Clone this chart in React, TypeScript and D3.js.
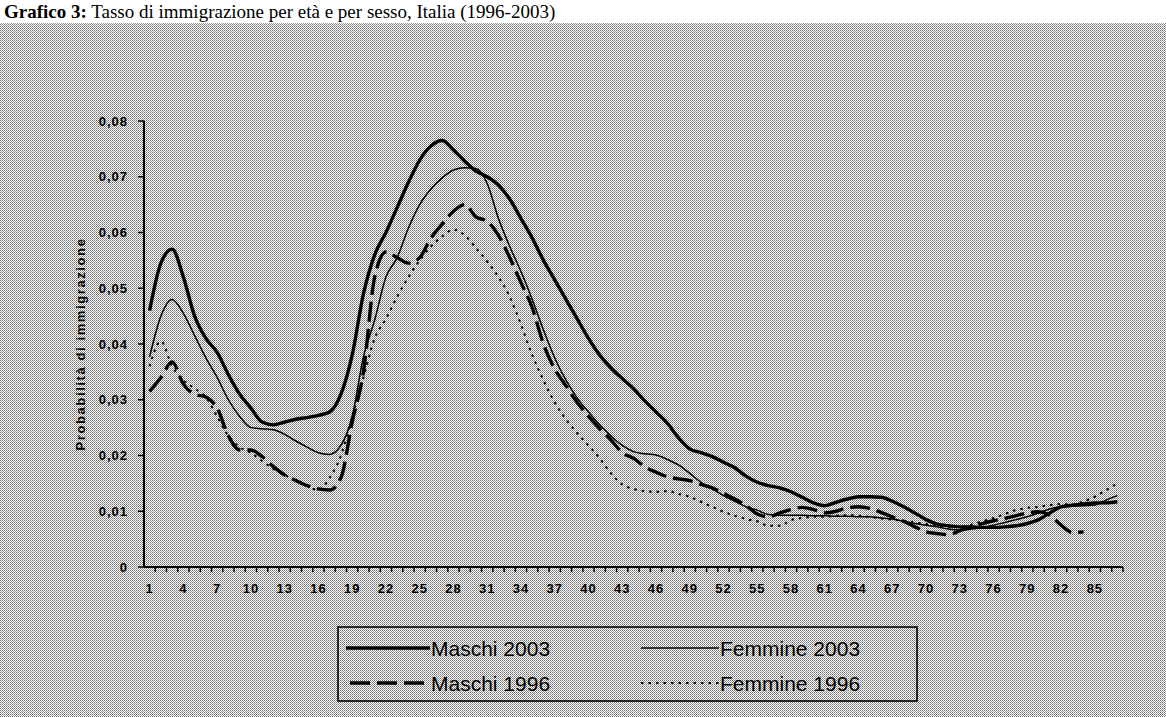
import React from 'react';
import * as d3 from 'd3';

const ages = [
  1, 2, 3, 4, 5, 6, 7, 8, 9, 10, 11, 12, 13, 14, 15, 16, 17, 18, 19, 20, 21, 22, 23, 24, 25, 26, 27, 28, 29, 30,
  31, 32, 33, 34, 35, 36, 37, 38, 39, 40, 41, 42, 43, 44, 45, 46, 47, 48, 49, 50, 51, 52, 53, 54, 55, 56, 57, 58,
  59, 60, 61, 62, 63, 64, 65, 66, 67, 68, 69, 70, 71, 72, 73, 74, 75, 76, 77, 78, 79, 80, 81, 82, 83, 84, 85, 86, 87,
];

const maschi2003 = [
  0.046, 0.0545, 0.057, 0.052, 0.045, 0.041, 0.0385, 0.0345, 0.031, 0.0285, 0.026, 0.0255, 0.026, 0.0265, 0.0268,
  0.0272, 0.0278, 0.031, 0.038, 0.049, 0.056, 0.06, 0.0645, 0.069, 0.073, 0.0755, 0.0765, 0.0748, 0.0728, 0.071,
  0.07, 0.0685, 0.066, 0.0625, 0.059, 0.055, 0.0515, 0.048, 0.0445, 0.041, 0.038, 0.0357, 0.0338, 0.032, 0.0298,
  0.0278, 0.0258, 0.0232, 0.0212, 0.0205, 0.0198, 0.0188, 0.0178, 0.0163, 0.0152, 0.0146, 0.0142, 0.0135, 0.0125,
  0.0115, 0.011, 0.0116, 0.0122, 0.0126, 0.0126, 0.0125, 0.0118, 0.0108, 0.0097, 0.0085, 0.0077, 0.0074, 0.0072,
  0.0072, 0.0071, 0.0071, 0.0072, 0.0074, 0.0078, 0.0085, 0.0097, 0.0108, 0.0111, 0.0113, 0.0115, 0.0115, 0.0117,
];

const femmine2003 = [
  0.0377, 0.045, 0.048, 0.0455, 0.0415, 0.0375, 0.034, 0.03, 0.027, 0.025, 0.0248, 0.0246, 0.0238, 0.0226, 0.0215,
  0.0205, 0.0202, 0.0218, 0.027, 0.0377, 0.0443, 0.052, 0.0555, 0.0608, 0.065, 0.0678, 0.0698, 0.0712, 0.0716,
  0.0715, 0.0688, 0.0625, 0.0575, 0.053, 0.048, 0.0425, 0.0375, 0.0335, 0.0303, 0.0278, 0.0255, 0.0235, 0.0218,
  0.0207, 0.0203, 0.0201, 0.0193, 0.0183, 0.0168, 0.0152, 0.014, 0.0128, 0.0118, 0.0108, 0.0102, 0.0094, 0.0093,
  0.0093, 0.0093, 0.0092, 0.0092, 0.0091, 0.0091, 0.009, 0.009, 0.0088, 0.0086, 0.0082, 0.0078, 0.0075, 0.0072,
  0.0068, 0.0066, 0.0068, 0.0071, 0.0075, 0.008, 0.0085, 0.009, 0.0097, 0.0104, 0.0108, 0.0109, 0.011, 0.0111,
  0.012, 0.0128,
];

const maschi1996 = [
  0.0315, 0.034, 0.0368, 0.0328, 0.031, 0.0305, 0.0285, 0.0235, 0.021, 0.021, 0.0198, 0.018, 0.0165, 0.0155, 0.0146,
  0.014, 0.0138, 0.016, 0.026, 0.035, 0.052, 0.0565, 0.0555, 0.0545, 0.0555, 0.059, 0.0615, 0.0638, 0.065, 0.0628,
  0.062, 0.0595, 0.0555, 0.051, 0.0465, 0.04, 0.0355, 0.0325, 0.0295, 0.027, 0.0248, 0.0228, 0.0205, 0.0195, 0.018,
  0.017, 0.0162, 0.0158, 0.0155, 0.0148, 0.0142, 0.0132, 0.0122, 0.011, 0.0095, 0.009, 0.0097, 0.0103, 0.0107,
  0.0103, 0.0097, 0.01, 0.0106, 0.0108, 0.0105, 0.0098, 0.009, 0.0082, 0.0072, 0.0063, 0.006, 0.0058, 0.0065,
  0.0072, 0.0078, 0.0083, 0.0087, 0.0092, 0.0097, 0.0099, 0.0093, 0.0075, 0.0062, 0.0063,
];

const femmine1996 = [
  0.036, 0.0405, 0.036, 0.0335, 0.032, 0.0305, 0.027, 0.0235, 0.0215, 0.0205, 0.019, 0.0176, 0.0165, 0.0155, 0.0145,
  0.0138, 0.016, 0.02, 0.027, 0.034, 0.041, 0.0445, 0.0485, 0.052, 0.055, 0.0575, 0.0593, 0.0605, 0.0595, 0.0572,
  0.0548, 0.052, 0.0485, 0.0435, 0.038, 0.0335, 0.0295, 0.0265, 0.024, 0.0218, 0.0195, 0.0168, 0.0148, 0.014,
  0.0136, 0.0135, 0.0136, 0.0131, 0.0126, 0.0117, 0.0108, 0.0099, 0.0092, 0.0086, 0.0082, 0.0074, 0.0074, 0.0084,
  0.0088, 0.009, 0.009, 0.0092, 0.0093, 0.0092, 0.009, 0.0087, 0.0085, 0.0083, 0.008, 0.0077, 0.0074, 0.0072,
  0.0072, 0.0076, 0.0082, 0.0088, 0.0095, 0.0102, 0.0106, 0.0108, 0.0111, 0.0113, 0.0112, 0.0118, 0.0126, 0.0138,
  0.015,
];

const yTicks = [0, 0.01, 0.02, 0.03, 0.04, 0.05, 0.06, 0.07, 0.08];
const yTickLabels = ['0', '0,01', '0,02', '0,03', '0,04', '0,05', '0,06', '0,07', '0,08'];
const xLabelAges = [1, 4, 7, 10, 13, 16, 19, 22, 25, 28, 31, 34, 37, 40, 43, 46, 49, 52, 55, 58, 61, 64, 67, 70, 73, 76, 79, 82, 85];

const seriesNames = ['Maschi 2003', 'Femmine 2003', 'Maschi 1996', 'Femmine 1996'];

const W = 1166;
const H = 717;

export default function App() {
  const x = d3.scaleBand<number>().domain(ages).range([144, 1123]).padding(0);
  const y = d3.scaleLinear().domain([0, 0.08]).range([567, 121]);
  const cx = (a: number) => (x(a) as number) + x.bandwidth() / 2;
  const mkLine = (vals: number[]) =>
    d3
      .line<number>()
      .x((_, i) => cx(ages[i]))
      .y((d) => y(d))
      .curve(d3.curveMonotoneX)(vals) as string;

  const styles = [
    { data: maschi2003, width: 3.4, dash: undefined as string | undefined },
    { data: femmine2003, width: 1.5, dash: undefined as string | undefined },
    { data: maschi1996, width: 3.4, dash: '20,7' },
    { data: femmine1996, width: 2, dash: '2.5,5' },
  ];

  const tickFont = "'Liberation Sans', Arial, sans-serif";
  const legFont = "'Liberation Sans Narrow', 'Arial Narrow', 'Liberation Sans', sans-serif";

  const legendItems = [
    { lx1: 346, lx2: 430, tx: 431, ty: 648, s: styles[0], name: seriesNames[0] },
    { lx1: 641, lx2: 719, tx: 720, ty: 648, s: styles[1], name: seriesNames[1] },
    { lx1: 350, lx2: 430, tx: 431, ty: 683, s: styles[2], name: seriesNames[2] },
    { lx1: 641, lx2: 719, tx: 720, ty: 683, s: styles[3], name: seriesNames[3] },
  ];

  return (
    <svg
      width={W}
      height={H}
      style={{ position: 'absolute', left: 0, top: 0, display: 'block' }}
      xmlns="http://www.w3.org/2000/svg"
    >
      <defs>
        <pattern id="dither" patternUnits="userSpaceOnUse" width={2} height={2}>
          <rect x={0} y={0} width={2} height={2} fill="#ffffff" />
          <rect x={0} y={0} width={1} height={1} fill="#707070" />
          <rect x={1} y={1} width={1} height={1} fill="#9a9a9a" />
        </pattern>
      </defs>
      <rect x={0} y={0} width={W} height={H} fill="#ffffff" />
      <rect x={0} y={23} width={W} height={H - 23} fill="url(#dither)" shapeRendering="crispEdges" />

      {/* title */}
      <text x={4} y={18} fontFamily="'Liberation Serif', 'Times New Roman', serif" fontSize={19} fill="#000">
        <tspan fontWeight="bold">Grafico 3:</tspan> Tasso di immigrazione per età e per sesso, Italia (1996-2003)
      </text>

      {/* y axis */}
      <line x1={144} x2={144} y1={y(0.08)} y2={y(0)} stroke="#000" strokeWidth={2} />
      {yTicks.map((t, i) => (
        <g key={'yt' + i}>
          <line x1={138} x2={144} y1={y(t)} y2={y(t)} stroke="#000" strokeWidth={1.5} />
          <text
            x={128}
            y={y(t)}
            textAnchor="end"
            dominantBaseline="central"
            fontFamily={tickFont}
            fontWeight="bold"
            fontSize={13}
            letterSpacing={1}
            fill="#000"
          >
            {yTickLabels[i]}
          </text>
        </g>
      ))}
      <text
        transform={`translate(80, ${(y(0) + y(0.08)) / 2}) rotate(-90)`}
        textAnchor="middle"
        dominantBaseline="central"
        fontFamily={tickFont}
        fontWeight="bold"
        fontSize={13}
        letterSpacing={1.6}
        fill="#000"
      >
        Probabilità di immigrazione
      </text>

      {/* x axis */}
      <line x1={144} x2={1123} y1={y(0)} y2={y(0)} stroke="#000" strokeWidth={2} />
      {ages.map((a) => (
        <line
          key={'xt' + a}
          x1={(x(a) as number) + x.bandwidth()}
          x2={(x(a) as number) + x.bandwidth()}
          y1={y(0)}
          y2={y(0) + 5}
          stroke="#000"
          strokeWidth={1.5}
        />
      ))}
      {xLabelAges.map((a) => (
        <text
          key={'xl' + a}
          x={cx(a)}
          y={588}
          textAnchor="middle"
          dominantBaseline="central"
          fontFamily={tickFont}
          fontWeight="bold"
          fontSize={13}
          letterSpacing={1}
          fill="#000"
        >
          {a}
        </text>
      ))}

      {/* series */}
      {styles.map((s, i) => (
        <path
          key={'s' + i}
          d={mkLine(s.data)}
          fill="none"
          stroke="#000"
          strokeWidth={s.width}
          strokeDasharray={s.dash}
          strokeLinejoin="round"
        />
      ))}

      {/* legend */}
      <rect x={338} y={627} width={579} height={74} fill="url(#dither)" stroke="#000" strokeWidth={1.6} />
      {legendItems.map((it, i) => (
        <g key={'lg' + i}>
          <line
            x1={it.lx1}
            x2={it.lx2}
            y1={it.ty}
            y2={it.ty}
            stroke="#000"
            strokeWidth={it.s.width}
            strokeDasharray={it.s.dash}
          />
          <text
            x={it.tx}
            y={it.ty}
            dominantBaseline="central"
            fontFamily={legFont}
            fontSize={21}
            fill="#000"
          >
            {it.name}
          </text>
        </g>
      ))}
    </svg>
  );
}
